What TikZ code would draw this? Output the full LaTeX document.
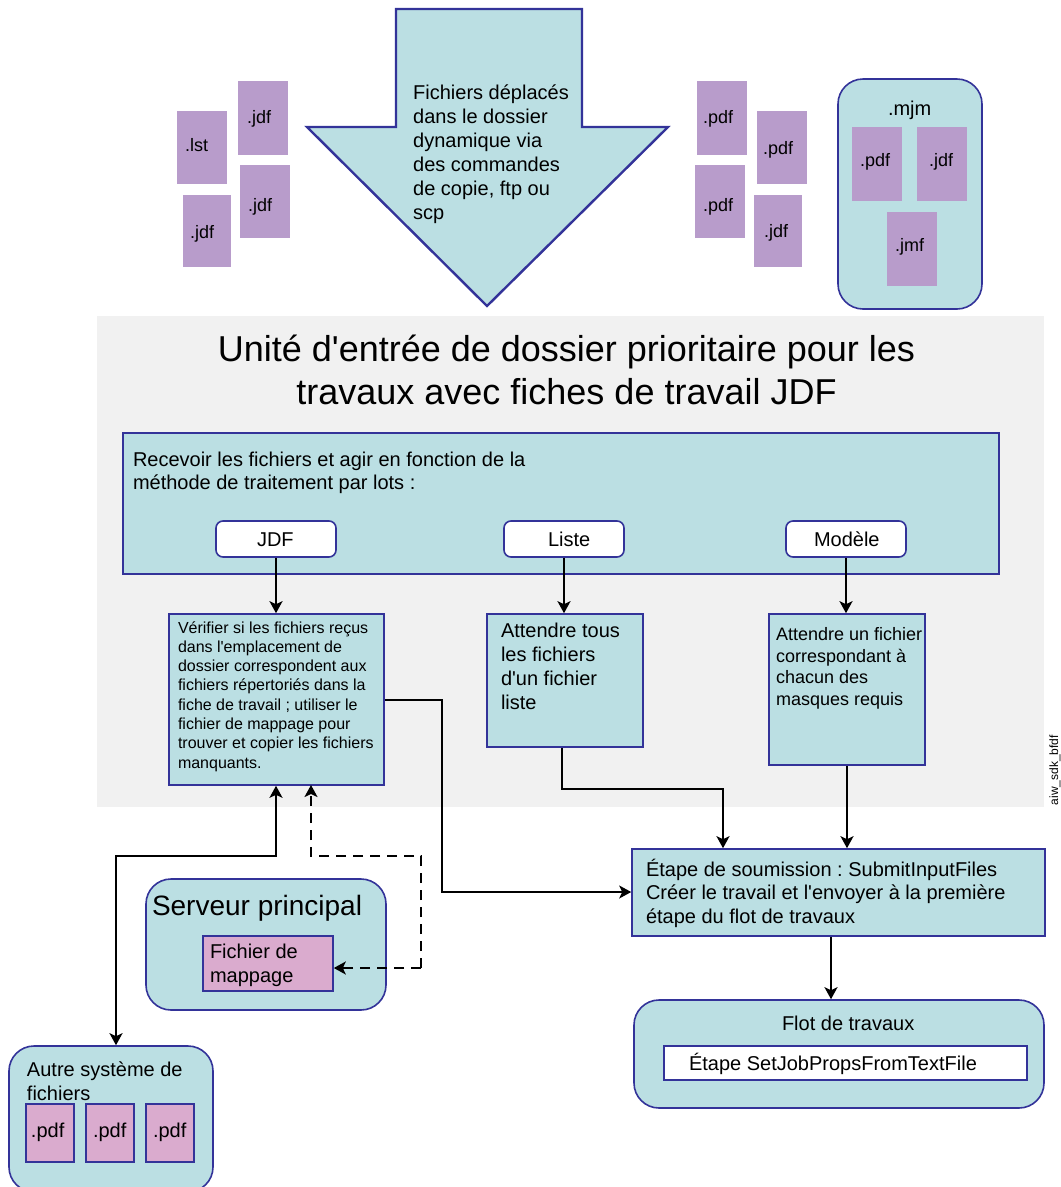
\documentclass[tikz,border=0pt]{standalone}
\usepackage{fontspec}
\setmainfont[Ligatures=TeXOff]{Liberation Sans}
\usetikzlibrary{arrows.meta}
\definecolor{teal}{HTML}{BBDFE3}
\definecolor{navy}{HTML}{333399}
\definecolor{purp}{HTML}{B89CCB}
\definecolor{pink}{HTML}{DAABCE}
\definecolor{panel}{HTML}{F1F1F1}
\newcommand{\fs}[2]{\fontsize{#1}{#2}\selectfont}
% name, style, x, y, w, h, pad x, first baseline offset, text
\newcommand{\tbox}[9]{\node[#2,anchor=north west,inner sep=0pt] (#1) at (#3,#4)
  {\frenchspacing\hspace*{#7pt}\parbox[c][#6pt][t]{\dimexpr#5pt-#7pt\relax}{\rule{0pt}{#8pt}#9}};}
\tikzset{
  stroked/.style={draw=navy,line width=1.6pt,xshift=-0.8pt,yshift=0.8pt},
  teal box/.style={stroked,fill=teal},
  round box/.style={teal box,rounded corners=25pt},
  tag/.style={fill=purp,font=\fs{18}{24}},
  pinkbox/.style={stroked,fill=pink,font=\fs{20}{24}},
  btn/.style={stroked,fill=white,rounded corners=7pt,font=\fs{20}{24}},
  link/.style={draw=black,line width=2pt,-{Stealth[length=12pt,width=13pt,inset=3pt]}},
  link both/.style={link,{Stealth[length=12pt,width=13pt,inset=3pt]}-{Stealth[length=12pt,width=13pt,inset=3pt]}},
  dash link/.style={link,dash pattern=on 10pt off 7pt}
}
\begin{document}
\begin{tikzpicture}[x=1pt,y=-1pt]
\useasboundingbox (0,0) rectangle (1061,1187);
% panel
\fill[panel] (97,316) rectangle (1044,807);
% big down arrow
\draw[draw=navy,fill=teal,line width=2.4pt,line join=miter] (396,9) -- (582,9) -- (582,127) -- (668,127) -- (487,306) -- (307,127) -- (396,127) -- cycle;
\node[anchor=north west,inner sep=0pt,align=left,font=\fs{20}{24}] (arrowtext) at (413,85) {Fichiers déplacés\\dans le dossier\\dynamique via\\des commandes\\de copie, ftp ou\\scp};
% left tags
\tbox{lst}{tag}{177}{111}{50}{73}{8}{40}{.lst}
\tbox{jdfa}{tag}{238}{81}{50}{74}{9}{42}{.jdf}
\tbox{jdfb}{tag}{240}{165}{50}{73}{8}{46}{.jdf}
\tbox{jdfc}{tag}{183}{195}{48}{72}{7}{43}{.jdf}
% right tags
\tbox{pdfa}{tag}{697}{81}{50}{74}{6}{42}{.pdf}
\tbox{pdfb}{tag}{757}{111}{50}{73}{6}{43}{.pdf}
\tbox{pdfc}{tag}{695}{165}{50}{73}{8}{46}{.pdf}
\tbox{jdfd}{tag}{754}{195}{48}{72}{10}{42}{.jdf}
% mjm
\tbox{mjm}{round box,font=\fs{20}{24}}{838}{79}{144}{230}{50}{36}{.mjm}
\tbox{mjmpdf}{tag}{852}{127}{50}{74}{8}{39}{.pdf}
\tbox{mjmjdf}{tag}{917}{127}{50}{74}{12}{39}{.jdf}
\tbox{mjmjmf}{tag}{887}{212}{50}{74}{8}{39}{.jmf}
% title
\node[anchor=north,inner sep=0pt,align=center,font=\fs{36}{43}] (title) at (566.5,335) {Unité d'entrée de dossier prioritaire pour les\\travaux avec fiches de travail JDF};
% reception box
\tbox{recv}{teal box,font=\fs{20}{23.5}}{123}{433}{876}{141}{10}{33}{Recevoir les fichiers et agir en fonction de la\\méthode de traitement par lots :}
\tbox{jdf}{btn}{216}{521}{120}{36}{41}{25}{JDF}
\tbox{liste}{btn}{504}{521}{120}{36}{44}{25}{Liste}
\tbox{modele}{btn}{786}{521}{120}{36}{28}{25}{Modèle}
% steps
\tbox{verif}{teal box,font=\fs{16}{19.3}}{169}{614}{215}{171}{9}{19}{Vérifier si les fichiers reçus\\dans l'emplacement de\\dossier correspondent aux\\fichiers répertoriés dans la\\fiche de travail ; utiliser le\\fichier de mappage pour\\trouver et copier les fichiers\\manquants.}
\tbox{attl}{teal box,font=\fs{20}{24}}{487}{614}{156}{133}{14}{23}{Attendre tous\\les fichiers\\d'un fichier\\liste}
\tbox{attm}{teal box,font=\fs{18}{21.7}}{769}{614}{156}{151}{7}{26.5}{Attendre un fichier\\correspondant à\\chacun des\\masques requis}
\tbox{submit}{teal box,font=\fs{20}{23.5}}{632}{849}{413}{87}{14}{27}{Étape de soumission : SubmitInputFiles\\Créer le travail et l'envoyer à la première\\étape du flot de travaux}
% flow
\tbox{flot}{round box,font=\fs{20}{24}}{634}{1000}{410}{108}{148}{30}{Flot de travaux}
\tbox{etape}{stroked,fill=white,font=\fs{20}{24}}{664}{1046}{363}{34}{25}{24}{Étape SetJobPropsFromTextFile}
% server
\tbox{serveur}{round box,font=\fs{28}{34}}{146}{879}{240}{131}{6}{36}{Serveur principal}
\tbox{mapp}{pinkbox}{203}{936}{130}{55}{7}{22}{Fichier de\\mappage}
% other file system
\tbox{autre}{round box,font=\fs{20}{24}}{9}{1046}{204}{146}{18}{30}{Autre système de\\fichiers}
\tbox{pa}{pinkbox}{26}{1104}{48}{58}{5}{33}{.pdf}
\tbox{pb}{pinkbox}{86}{1104}{48}{58}{7}{33}{.pdf}
\tbox{pc}{pinkbox}{146}{1104}{48}{58}{7}{33}{.pdf}
% margin id
\node[rotate=90,inner sep=0pt,font=\fs{12}{14}] (figid) at (1055,770) {aiw\_sdk\_bfdf};
% bend points
\coordinate (c1) at (442,700);
\coordinate (c2) at (442,892);
\coordinate (c3) at (562,789);
\coordinate (c4) at (723,789);
\coordinate (c5) at (116,856);
\coordinate (c6) at (276,856);
\coordinate (c7) at (311,856);
\coordinate (c8) at (421,856);
\coordinate (c9) at (421,968);
\coordinate (e1) at (311,785);
% connectors
\draw[link] (jdf.south) -- (jdf.south |- verif.north);
\draw[link] (liste.south) -- (liste.south |- attl.north);
\draw[link] (modele.south) -- (modele.south |- attm.north);
\draw[link,line width=1.6pt] (verif.east |- c1) -- (c1) -- (c2) -- (submit.west |- c2);
\draw[link] (attl.south -| c3) -- (c3) -- (c4) -- (c4 |- submit.north);
\draw[link] (attm.south) -- (attm.south |- submit.north);
\draw[link] (submit.south -| 831,0) -- (831,0 |- flot.north);
\draw[link both] (c5 |- autre.north) -- (c5) -- (c6) -- (c6 |- verif.south);
\draw[dash link] (c9) -- (c8) -- (c7) -- (e1);
\draw[dash link] (c9) -- (mapp.east |- c9);
\end{tikzpicture}
\end{document}
